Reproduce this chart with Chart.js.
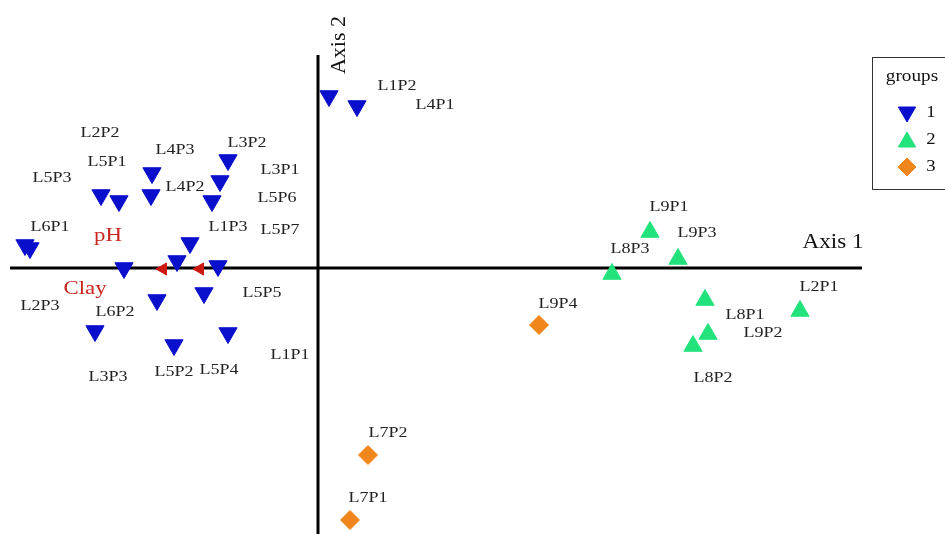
<!DOCTYPE html>
<html>
<head>
<meta charset="utf-8">
<script src="https://cdn.jsdelivr.net/npm/chart.js@4/dist/chart.umd.min.js"></script>
<style>
  html, body { margin: 0; padding: 0; background: #fff; }
  #wrap { width: 945px; height: 534px; }
</style>
</head>
<body>
<div id="wrap"><canvas id="ord" width="945" height="534"></canvas></div>
<script>
// site scores (axis 1, axis 2) per group
const group1Names = ['L1P2', 'L4P1', 'L3P2', 'L4P3', 'L4P2', 'L3P1', 'L5P6', 'L5P1', 'L5P3', 'L6P1',
                     'L2P2', 'L1P3', 'L5P7', 'L5P5', 'L2P3', 'L6P2', 'L1P1', 'L3P3', 'L5P2', 'L5P4'];
const group1X = [0.11, 0.39, -0.90, -1.66, -1.67, -0.98, -1.06, -2.17, -1.99, -2.93,
                 -2.88, -1.28, -1.41, -1.00, -1.94, -1.61, -1.14, -2.23, -1.44, -0.90];
const group1Y = [1.72, 1.62, 1.08, 0.95, 0.73, 0.87, 0.67, 0.73, 0.67, 0.23,
                 0.20, 0.25, 0.07, 0.02, 0.00, -0.32, -0.25, -0.63, -0.77, -0.65];

const group2Names = ['L9P1', 'L9P3', 'L8P3', 'L8P1', 'L9P2', 'L8P2', 'L2P1'];
const group2X = [3.32, 3.60, 2.94, 3.87, 3.90, 3.75, 4.82];
const group2Y = [0.36, 0.09, -0.06, -0.32, -0.66, -0.78, -0.43];

const group3Names = ['L9P4', 'L7P2', 'L7P1'];
const group3X = [2.21, 0.50, 0.32];
const group3Y = [-0.57, -1.87, -2.52];

// environmental vectors (arrow tips)
const envNames = ['pH', 'Clay'];
const envX = [-1.55, -1.18];
const envY = [-0.01, -0.01];

// label placement (as drawn by the ordination software)
const labelNames = ['L1P2', 'L4P1', 'L2P2', 'L5P1', 'L5P3', 'L4P3', 'L3P2', 'L3P1', 'L4P2', 'L5P6',
                    'L6P1', 'L1P3', 'L5P7', 'L2P3', 'L6P2', 'L5P5', 'L1P1', 'L3P3', 'L5P2', 'L5P4',
                    'L9P1', 'L9P3', 'L8P3', 'L2P1', 'L8P1', 'L9P2', 'L8P2', 'L9P4', 'L7P2', 'L7P1'];
const labelX = [0.79, 1.17, -2.18, -2.11, -2.66, -1.43, -0.71, -0.38, -1.33, -0.41,
                -2.68, -0.90, -0.38, -2.78, -2.03, -0.56, -0.28, -2.10, -1.44, -0.99,
                3.51, 3.79, 3.12, 5.01, 4.27, 4.45, 3.95, 2.40, 0.70, 0.50];
const labelY = [1.82, 1.63, 1.35, 1.06, 0.90, 1.18, 1.25, 0.98, 0.81, 0.70,
                0.41, 0.41, 0.38, -0.38, -0.44, -0.25, -0.87, -1.09, -1.04, -1.02,
                0.61, 0.35, 0.19, -0.19, -0.47, -0.65, -1.10, -0.36, -1.65, -2.30];
const envLabelX = [-2.10, -2.33];
const envLabelY = [0.32, -0.21];

const groupLabels = ['1', '2', '3'];

const toPoints = (xs, ys) => xs.map((x, i) => ({ x: x, y: ys[i] }));

const SERIF = '"Liberation Serif", "DejaVu Serif", serif';

function stretchedText(ctx, text, x, y, size, color, stretch) {
  ctx.save();
  ctx.translate(x, y);
  ctx.scale(stretch, 1);
  ctx.font = size + 'px ' + SERIF;
  ctx.fillStyle = color;
  ctx.textAlign = 'center';
  ctx.textBaseline = 'middle';
  ctx.fillText(text, 0, 0);
  ctx.restore();
}

const ordinationPlugin = {
  id: 'ordination',
  beforeDatasetsDraw(chart) {
    const { ctx, scales: { x, y } } = chart;
    ctx.save();
    ctx.strokeStyle = '#000';
    ctx.lineWidth = 3;
    ctx.beginPath();
    ctx.moveTo(x.getPixelForValue(-3.08), y.getPixelForValue(0));
    ctx.lineTo(x.getPixelForValue(5.44), y.getPixelForValue(0));
    ctx.moveTo(x.getPixelForValue(0), y.getPixelForValue(2.13));
    ctx.lineTo(x.getPixelForValue(0), y.getPixelForValue(-2.70));
    ctx.stroke();
    ctx.restore();
  },
  afterDatasetsDraw(chart) {
    const { ctx, scales: { x, y } } = chart;

    labelNames.forEach((name, i) => {
      stretchedText(ctx, name, x.getPixelForValue(labelX[i]), y.getPixelForValue(labelY[i]), 15, '#222', 1.2);
    });
    envNames.forEach((name, i) => {
      stretchedText(ctx, name, x.getPixelForValue(envLabelX[i]), y.getPixelForValue(envLabelY[i]), 19, '#c8261e', 1.2);
    });

    // axis titles
    stretchedText(ctx, 'Axis 1', x.getPixelForValue(5.15), y.getPixelForValue(0.26), 21, '#111', 1.1);
    ctx.save();
    ctx.translate(x.getPixelForValue(0.21), y.getPixelForValue(2.23));
    ctx.rotate(-Math.PI / 2);
    ctx.font = '22px ' + SERIF;
    ctx.fillStyle = '#111';
    ctx.textAlign = 'center';
    ctx.textBaseline = 'middle';
    ctx.fillText('Axis 2', 0, 0);
    ctx.restore();

    // legend box
    ctx.save();
    ctx.strokeStyle = '#333';
    ctx.lineWidth = 1;
    ctx.strokeRect(872.5, 57.5, 80, 132);
    ctx.restore();
    stretchedText(ctx, 'groups', 912, 77, 16, '#111', 1.2);
    const rows = [113, 140, 167];
    chart.data.datasets.slice(0, 3).forEach((ds, i) => {
      ctx.save();
      ctx.fillStyle = ds.backgroundColor;
      ctx.strokeStyle = ds.backgroundColor;
      ctx.lineWidth = 1;
      Chart.helpers.drawPoint(ctx, {
        pointStyle: ds.pointStyle,
        rotation: ds.rotation,
        radius: i === 2 ? 9 : 10,
        borderWidth: 1
      }, 907, rows[i] + (i === 0 ? -1 : i === 1 ? 2 : 0));
      ctx.restore();
      stretchedText(ctx, groupLabels[i], 931, rows[i], 17, '#111', 1.1);
    });
  }
};

new Chart(document.getElementById('ord'), {
  type: 'scatter',
  data: {
    datasets: [
      {
        label: groupLabels[0],
        data: toPoints(group1X, group1Y),
        pointStyle: 'triangle',
        rotation: 180,
        radius: 10.5,
        backgroundColor: '#0a0fcc',
        borderColor: '#0a0fcc',
        borderWidth: 1
      },
      {
        label: groupLabels[1],
        data: toPoints(group2X, group2Y),
        pointStyle: 'triangle',
        rotation: 0,
        radius: 10.5,
        backgroundColor: '#22e27c',
        borderColor: '#22e27c',
        borderWidth: 1
      },
      {
        label: groupLabels[2],
        data: toPoints(group3X, group3Y),
        pointStyle: 'rectRot',
        rotation: 0,
        radius: 9.5,
        backgroundColor: '#f0861c',
        borderColor: '#f0861c',
        borderWidth: 1
      },
      {
        label: 'env',
        data: toPoints(envX, envY),
        pointStyle: 'triangle',
        rotation: 270,
        radius: 7,
        backgroundColor: '#cc1a12',
        borderColor: '#cc1a12',
        borderWidth: 1
      }
    ]
  },
  options: {
    responsive: false,
    devicePixelRatio: 1,
    animation: false,
    layout: { padding: 0, autoPadding: false },
    plugins: {
      legend: { display: false },
      tooltip: { enabled: false }
    },
    scales: {
      x: { type: 'linear', min: -3.18, max: 6.27, display: false },
      y: { type: 'linear', min: -2.66, max: 2.68, display: false }
    }
  },
  plugins: [ordinationPlugin]
});
</script>
</body>
</html>
